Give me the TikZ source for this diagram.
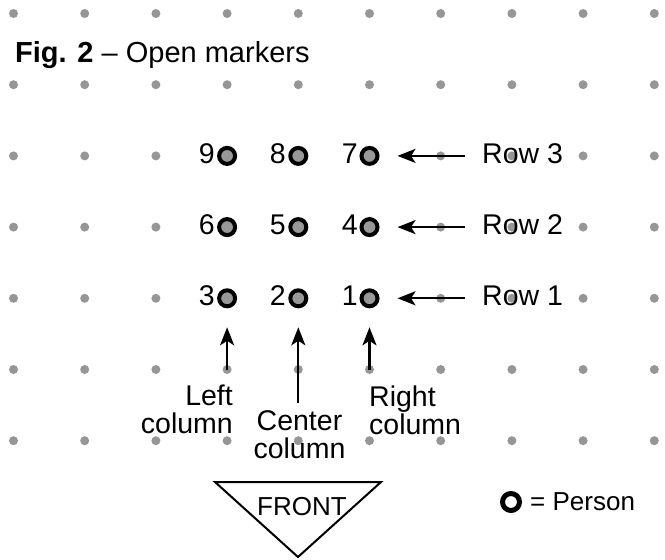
\documentclass[tikz,border=0pt]{standalone}
\usepackage{fontspec}
\setmainfont{Liberation Sans}
\usetikzlibrary{arrows.meta}
\definecolor{dotgray}{RGB}{150,150,154}
\definecolor{fillgray}{RGB}{152,152,152}
\begin{document}
\begin{tikzpicture}[x=1pt,y=-1pt,
  griddot/.style={circle,fill=dotgray,inner sep=0,minimum size=9pt},
  marker/.style={circle,draw=black,line width=4pt,fill=fillgray,inner sep=0,minimum size=16pt},
  lbl/.style={inner sep=0,font=\fontsize{28.5}{28}\selectfont},
  small/.style={inner sep=0,font=\fontsize{26}{28}\selectfont},
  arr/.style={line width=2.3pt,-{Stealth[length=18pt,width=14pt,inset=4.5pt]}},
]
\useasboundingbox (0,0) rectangle (665,560);
% grid of dots
\foreach \i in {0,...,9}{
  \foreach \j in {0,...,6}{
    \node[griddot] (d\i-\j) at ({13.5+71.2*\i},{13.5+71.2*\j}) {};
  }
}
% title
\node[anchor=base west,inner sep=0,font=\fontsize{29}{30}\selectfont] (title) at (15,62) {\textbf{Fig. 2} – Open markers};
% markers
\node[marker] (m9) at (227.1,155.9) {};
\node[marker] (m8) at (298.3,155.9) {};
\node[marker] (m7) at (369.5,155.9) {};
\node[marker] (m6) at (227.1,227.1) {};
\node[marker] (m5) at (298.3,227.1) {};
\node[marker] (m4) at (369.5,227.1) {};
\node[marker] (m3) at (227.1,298.3) {};
\node[marker] (m2) at (298.3,298.3) {};
\node[marker] (m1) at (369.5,298.3) {};
% numbers
\node[lbl,anchor=base east] (n9) at (215,163) {9};
\node[lbl,anchor=base east] (n8) at (286,163) {8};
\node[lbl,anchor=base east] (n7) at (358,163) {7};
\node[lbl,anchor=base east] (n6) at (215,234) {6};
\node[lbl,anchor=base east] (n5) at (286,234) {5};
\node[lbl,anchor=base east] (n4) at (358,234) {4};
\node[lbl,anchor=base east] (n3) at (215,305) {3};
\node[lbl,anchor=base east] (n2) at (286,305) {2};
\node[lbl,anchor=base east] (n1) at (358,305) {1};
% row labels and arrows
\node[lbl,anchor=base west] (row3) at (482,163) {Row 3};
\node[lbl,anchor=base west] (row2) at (482,234) {Row 2};
\node[lbl,anchor=base west] (row1) at (482,305) {Row 1};
\coordinate (t3) at (465,155.9);
\coordinate (t2) at (465,227.1);
\coordinate (t1) at (465,298.3);
\draw[arr,shorten >=18pt] (t3) -- (m7.east);
\draw[arr,shorten >=18pt] (t2) -- (m4.east);
\draw[arr,shorten >=18pt] (t1) -- (m1.east);
% column labels and arrows
\node[lbl,anchor=north east,align=right] (lcol) at (233,385) {Left\\column};
\node[lbl,anchor=north,align=center] (ccol) at (299.5,410) {Center\\column};
\node[lbl,anchor=north west,align=left] (rcol) at (369,386) {Right\\column};
\coordinate (tl) at (227.1,370);
\coordinate (tc) at (298.3,403);
\coordinate (tr) at (369.5,370);
\draw[arr,shorten >=19pt] (tl) -- (m3.south);
\draw[arr,shorten >=19pt] (tc) -- (m2.south);
\draw[arr,shorten >=19pt] (tr) -- (m1.south);
% front triangle
\coordinate (fa) at (215,482);
\coordinate (fb) at (381,482);
\coordinate (fc) at (298,557);
\draw[line width=2pt] (fa) -- (fb) -- (fc) -- cycle;
\node[small,anchor=base] (front) at (302,515) {FRONT};
% legend
\node[circle,draw=black,line width=5pt,fill=white,minimum size=17pt,inner sep=0] (leg) at (511,502) {};
\node[small,anchor=base west] (person) at (530,510) {= Person};
\end{tikzpicture}
\end{document}
